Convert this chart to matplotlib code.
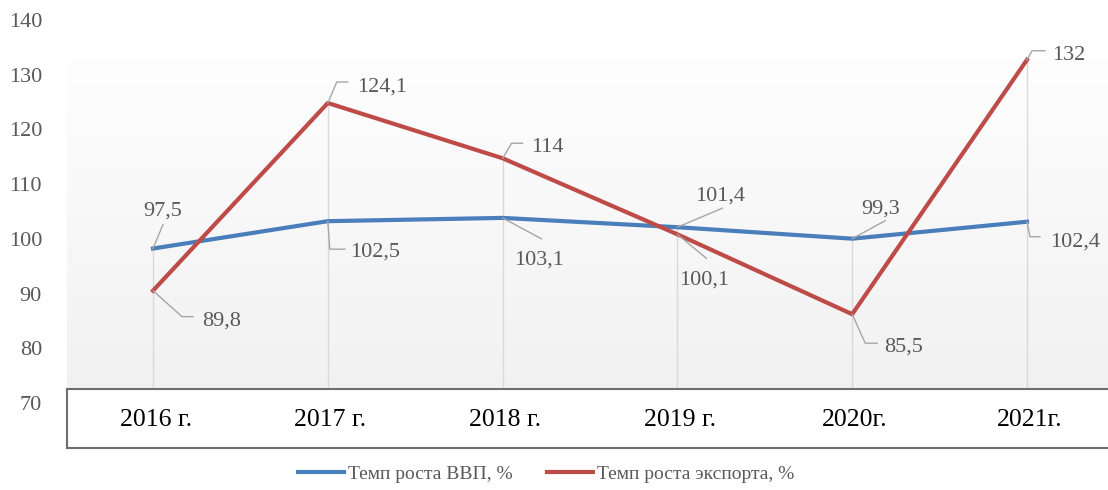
import matplotlib.pyplot as plt
import matplotlib.transforms as mtransforms
from matplotlib.colors import LinearSegmentedColormap
from matplotlib.lines import Line2D
import numpy as np

plt.rcParams['font.family'] = ['Liberation Serif', 'DejaVu Serif']

# data
years = ['2016 г.', '2017 г.', '2018 г.', '2019 г.', '2020г.', '2021г.']
gdp = [97.5, 102.5, 103.1, 101.4, 99.3, 102.4]
export = [89.8, 124.1, 114, 100.1, 85.5, 132]
gdp_name = 'Темп роста ВВП, %'
export_name = 'Темп роста экспорта, %'

# label placement (pixels from the point, y down): text dx, dy, ha, leader path
gdp_lab = [((10, -37), 'center', [(0, 0), (10, -24)]),
           ((22, 31), 'left', [(0, 0), (2, 28), (17, 28)]),
           ((12, 42), 'left', [(0, 0), (39, 21)]),
           ((43, -31), 'center', [(0, 0), (45, -19)]),
           ((28, -30), 'center', [(0, 0), (33, -18)]),
           ((23, 20), 'left', [(0, 0), (3, 15), (13, 15)])]
exp_lab = [((49, 30), 'left', [(0, 0), (29, 26), (40, 26)]),
           ((29, -16), 'left', [(0, 0), (9, -21), (20, -21)]),
           ((29, -11), 'left', [(0, 0), (9, -15), (20, -15)]),
           ((27, 46), 'center', [(0, 0), (29, 24)]),
           ((32, 33), 'left', [(0, 0), (13, 29), (25, 29)]),
           ((25, -4), 'left', [(0, 0), (5, -9), (18, -9)])]

W, H = 1108, 490
fig = plt.figure(figsize=(W / 100, H / 100), dpi=100)
ax = fig.add_axes([67 / W, 1 - 399 / H, 1 - 67 / W, 383 / H])

x = np.arange(len(years))
xlim = (-86 / 174.8, (W - 153) / 174.8)

# plot area gradient
cmap = LinearSegmentedColormap.from_list('g', ['#fefefe', '#f1f1f1'])
ax.imshow(np.linspace(0, 1, 256).reshape(-1, 1), cmap=cmap, aspect='auto',
          extent=[0, 1, 0, (399 - 60) / 383], transform=ax.transAxes, zorder=0)

ax.vlines(x, 70, np.maximum(gdp, export), color='#d9d9d9', lw=1, zorder=1)
ax.plot(x, gdp, color='#4a7ebb', lw=3, label=gdp_name, zorder=3)
ax.plot(x, export, color='#be4b48', lw=3, label=export_name, zorder=4)

ax.set_xlim(*xlim)
ax.set_ylim(70, 140)
ax.set_xticks([])
ax.set_yticks(range(70, 141, 10))
ax.tick_params(axis='y', length=0, pad=18, labelsize=16, labelcolor='#595959')
for s in ax.spines.values():
    s.set_visible(False)
shift = mtransforms.ScaledTranslation(0, -0.04, fig.dpi_scale_trans)
for lab in ax.get_yticklabels():
    lab.set_transform(lab.get_transform() + shift)

ident = mtransforms.IdentityTransform()
for vals, specs in ((gdp, gdp_lab), (export, exp_lab)):
    for xi, v, (off, ha, path) in zip(x, vals, specs):
        px, py = ax.transData.transform((xi, v))
        ax.add_line(Line2D([px + p[0] for p in path], [py - p[1] for p in path],
                           color='#a6a6a6', lw=1, transform=ident, clip_on=False, zorder=5))
        ax.text(px + off[0], py - off[1], f'{v:g}'.replace('.', ','), ha=ha, va='center',
                fontsize=16, color='#595959', transform=ident, zorder=6)

# category box
bx = fig.add_axes([67 / W, 1 - 448 / H, 1 - 67 / W, 59 / H])
bx.set_xlim(*xlim)
bx.set_ylim(0, 1)
bx.set_xticks([])
bx.set_yticks([])
for s in bx.spines.values():
    s.set_color('#6e6e6e')
    s.set_linewidth(1.5)
bx.spines['right'].set_visible(False)
for xi, name in zip(x, years):
    bx.text(xi + 0.015, 0.47, name, ha='center', va='center', fontsize=18.5, color='black')

fig.legend(loc='center', bbox_to_anchor=(546 / W, 1 - 474 / H), ncol=2, frameon=False,
           fontsize=14, handlelength=2.35, handletextpad=0.2, columnspacing=1.8,
           labelcolor='#595959')

fig.savefig('out.png', dpi=100)
